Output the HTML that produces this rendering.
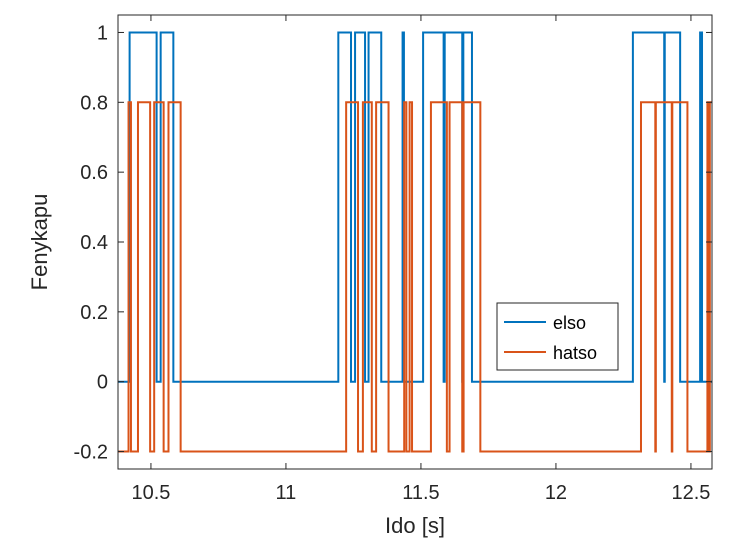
<!DOCTYPE html>
<html><head><meta charset="utf-8"><style>
body{margin:0;background:#fff;}
svg{display:block;font-family:"Liberation Sans",Arial,sans-serif;}
</style></head><body>
<svg id="chart" width="744" height="553" viewBox="0 0 744 553">
<rect x="0" y="0" width="744" height="553" fill="#fff"/>
<g id="plot"></g>
<g id="axes"></g>
<text x="47" y="242" font-size="22" fill="#262626" text-anchor="middle" transform="rotate(-90 47 242)">Fenykapu</text>
<text x="415" y="533" font-size="22" fill="#262626" text-anchor="middle">Ido [s]</text>
<g>
<rect x="497" y="303" width="121" height="67" fill="#fff" stroke="#262626" stroke-width="1"/>
<line x1="504" y1="322" x2="546" y2="322" stroke="#0072BD" stroke-width="2"/>
<text x="553" y="329" font-size="18" fill="#000">elso</text>
<line x1="504" y1="352" x2="546" y2="352" stroke="#D95319" stroke-width="2"/>
<text x="553" y="359" font-size="18" fill="#000">hatso</text>
</g>
</svg>
<script>
const xTicks = [10.5, 11, 11.5, 12, 12.5];
const xTickLabels = ["10.5", "11", "11.5", "12", "12.5"];
const yTicks = [-0.2, 0, 0.2, 0.4, 0.6, 0.8, 1];
const yTickLabels = ["-0.2", "0", "0.2", "0.4", "0.6", "0.8", "1"];
const elsoStart = 0;
const elsoTimes = [10.421,10.521,10.536,10.583,11.194,11.241,11.256,11.293,11.306,11.353,11.432,11.437,11.508,11.584,11.588,11.653,11.657,11.689,12.285,12.401,12.403,12.460,12.534,12.541];
const elsoVals  = [1,0,1,0,1,0,1,0,1,0,1,0,1,0,1,0,1,0,1,0,1,0,1,0];
const hatsoStart = -0.2;
const hatsoTimes = [10.417,10.426,10.452,10.497,10.512,10.547,10.565,10.610,11.223,11.267,11.285,11.318,11.334,11.380,11.438,11.446,11.458,11.467,11.537,11.596,11.606,11.653,11.658,11.720,12.315,12.368,12.370,12.429,12.431,12.487,12.561,12.566,12.570];
const hatsoVals  = [0.8,-0.2,0.8,-0.2,0.8,-0.2,0.8,-0.2,0.8,-0.2,0.8,-0.2,0.8,-0.2,0.8,-0.2,0.8,-0.2,0.8,-0.2,0.8,-0.2,0.8,-0.2,0.8,-0.2,0.8,-0.2,0.8,-0.2,0.8,-0.2,0.8];

const X0=118, X1=712, Y0=15, Y1=469;
const xMin=10.378, xMax=12.578, yMin=-0.25, yMax=1.05;
const sx = t => X0 + (t-xMin)/(xMax-xMin)*(X1-X0);
const sy = v => Y1 - (v-yMin)/(yMax-yMin)*(Y1-Y0);
const NS="http://www.w3.org/2000/svg";
const plot=document.getElementById('plot'), axes=document.getElementById('axes');

function stepPath(start, times, vals){
  let v=start, d="M"+sx(xMin)+","+sy(v);
  for(let i=0;i<times.length;i++){
    d+=" L"+sx(times[i])+","+sy(v);
    v=vals[i];
    d+=" L"+sx(times[i])+","+sy(v);
  }
  d+=" L"+sx(xMax)+","+sy(v);
  return d;
}
const p1=document.createElementNS(NS,'path');
p1.setAttribute('d',stepPath(elsoStart,elsoTimes,elsoVals));
p1.setAttribute('fill','none');p1.setAttribute('stroke','#0072BD');p1.setAttribute('stroke-width','2');


plot.appendChild(p1);
const p2=document.createElementNS(NS,'path');
p2.setAttribute('d',stepPath(hatsoStart,hatsoTimes,hatsoVals));
p2.setAttribute('fill','none');p2.setAttribute('stroke','#D95319');p2.setAttribute('stroke-width','2');


plot.appendChild(p2);

const box=document.createElementNS(NS,'rect');
box.setAttribute('x',X0);box.setAttribute('y',Y0);box.setAttribute('width',X1-X0);box.setAttribute('height',Y1-Y0);
box.setAttribute('fill','none');box.setAttribute('stroke','#262626');box.setAttribute('stroke-width','1');


axes.appendChild(box);

xTicks.forEach((t,i)=>{
  const x=sx(t);
  [[Y1,Y1-6],[Y0,Y0+6]].forEach(([a,b])=>{
    const l=document.createElementNS(NS,'line');
    l.setAttribute('x1',x);l.setAttribute('x2',x);l.setAttribute('y1',a);l.setAttribute('y2',b);
    l.setAttribute('stroke','#262626');
    
    
    axes.appendChild(l);
  });
  const tx=document.createElementNS(NS,'text');
  tx.setAttribute('x',x);tx.setAttribute('y',Y1+30);tx.setAttribute('font-size','20');
  tx.setAttribute('text-anchor','middle');tx.setAttribute('fill','#262626');
  tx.textContent=xTickLabels[i];
  
  
  axes.appendChild(tx);
});
yTicks.forEach((v,i)=>{
  const y=sy(v);
  [[X0,X0+6],[X1,X1-6]].forEach(([a,b])=>{
    const l=document.createElementNS(NS,'line');
    l.setAttribute('x1',a);l.setAttribute('x2',b);l.setAttribute('y1',y);l.setAttribute('y2',y);
    l.setAttribute('stroke','#262626');
    
    
    axes.appendChild(l);
  });
  const tx=document.createElementNS(NS,'text');
  tx.setAttribute('x',X0-10);tx.setAttribute('y',y+7);tx.setAttribute('font-size','20');
  tx.setAttribute('text-anchor','end');tx.setAttribute('fill','#262626');
  tx.textContent=yTickLabels[i];
  
  
  axes.appendChild(tx);
});
</script>
</body></html>
